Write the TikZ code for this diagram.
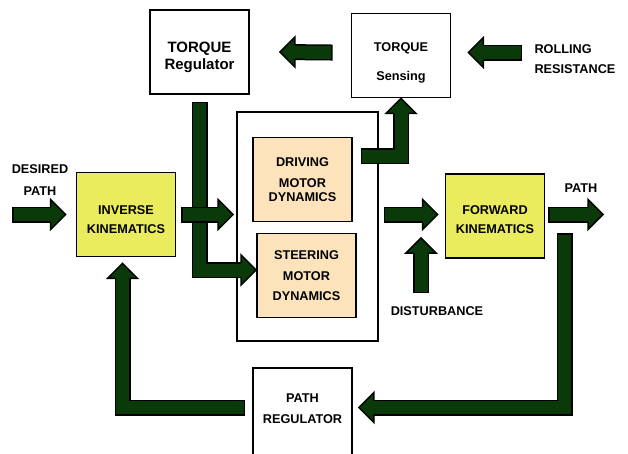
\documentclass[tikz,border=0pt]{standalone}
\usepackage{fontspec}
\setmainfont{Liberation Sans}
\usepackage{tikz}
\definecolor{arrowgreen}{HTML}{0A3A0A}
\definecolor{kinyellow}{HTML}{EBEB5E}
\definecolor{motorpeach}{HTML}{FCE3BC}
\tikzstyle{block} = [draw,line width=1.8pt,minimum width=99pt,minimum height=84pt,inner sep=0pt,align=center,font=\bfseries\fontsize{12.7pt}{14pt}\selectfont]
\tikzstyle{lbl} = [align=center,font=\bfseries\fontsize{12.7pt}{14pt}\selectfont]
\tikzstyle{shaftout} = [draw=black,line width=16pt,shorten >=15pt,shorten <=-1.5pt]
\tikzstyle{shaftin} = [draw=arrowgreen,line width=13pt,shorten >=14pt]
\tikzset{head/.pic={
    \fill[arrowgreen] (0,0) -- (-15,15) -- (-15,-15) -- cycle;
    \draw[line width=1.5pt] (-15,7.25) -- (-15,15) -- (0,0) -- (-15,-15) -- (-15,-7.25);
}}
% #1 shaft up to the tip, #2 tip, #3 direction
\newcommand{\fatarrow}[3]{%
    \draw[shaftout] #1 (#2);
    \draw[shaftin] #1 (#2);
    \pic[rotate=#3] at (#2) {head};
}

\begin{document}
\begin{tikzpicture}[x=1pt,y=-1pt]
        \useasboundingbox (0,0) rectangle (628,453);
        \node[block, font=\bfseries\fontsize{15pt}{17pt}\selectfont] at (199.5,52) (TR) {\rule{0pt}{22pt}TORQUE\\Regulator};
        \node[block] at (401,55.5) (TS) {\rule{0pt}{23pt}TORQUE\\[15pt]Sensing};
        \node[draw,line width=1.8pt,minimum width=141pt,minimum height=229pt] at (307.5,226.5) (FR) {};
        \node[block, fill=motorpeach] at (302.5,179.5) (DM) {DRIVING\\[7pt]MOTOR\\DYNAMICS};
        \node[block, fill=motorpeach] at (306.5,275.5) (SM) {STEERING\\[7pt]MOTOR\\[6pt]DYNAMICS};
        \node[block, fill=kinyellow] at (126,214.5) (IK) {\rule{0pt}{19pt}INVERSE\\[5pt]KINEMATICS};
        \node[block, fill=kinyellow] at (495,216) (FK) {\rule{0pt}{16pt}FORWARD\\[5pt]KINEMATICS};
        \node[block, minimum height=88pt] at (302.5,412) (PR) {PATH\\[7pt]REGULATOR\rule[-6pt]{0pt}{0pt}};

        \node[lbl] at (40,180) (DP) {DESIRED\\[8pt]PATH};
        \node[lbl, align=left, anchor=west] at (531,59) (RR) {ROLLING\\[6pt]RESISTANCE};
        \node[lbl] at (437,311) (DB) {DISTURBANCE};
        \node[lbl] at (581,188) (PT) {PATH};

        \coordinate (dp) at (13.5,214.5);
        \coordinate (rr) at (520.5,52.5);
        \coordinate (db0) at (421,291.5);
        \coordinate (db1) at (421,238);
        \coordinate (pt) at (603,214.5);

        \fatarrow{(dp) --}{[xshift=-10pt]IK.west}{0}
        \fatarrow{([yshift=-8.5pt]TR.south) |-}{[yshift=5.5pt]SM.west}{0}
        \fatarrow{([xshift=6.5pt]IK.east) --}{[xshift=-3pt]FR.west |- IK.east}{0}
        \fatarrow{([xshift=9.5pt,yshift=23.5pt]DM.east) -|}{TS.south}{90}
        \fatarrow{([xshift=6.5pt]FR.east |- IK.east) --}{[xshift=-7pt]FK.west |- IK.east}{0}
        \fatarrow{(db0) --}{db1}{90}
        \fatarrow{([xshift=4.5pt]FK.east |- IK.east) --}{pt}{0}
        \fatarrow{([xshift=19.5pt,yshift=-18.5pt]FK.east) |-}{[xshift=6pt,yshift=4.5pt]PR.east}{180}
        \fatarrow{([xshift=-8.5pt,yshift=4.5pt]PR.west) -|}{[xshift=-3.5pt,yshift=-6pt]IK.south}{90}
        \fatarrow{([xshift=-19.5pt,yshift=3pt]TS.west) --}{[xshift=30pt]TR.east}{180}
        \fatarrow{(rr) --}{[xshift=17pt,yshift=3pt]TS.east}{180}
\end{tikzpicture}
\end{document}
